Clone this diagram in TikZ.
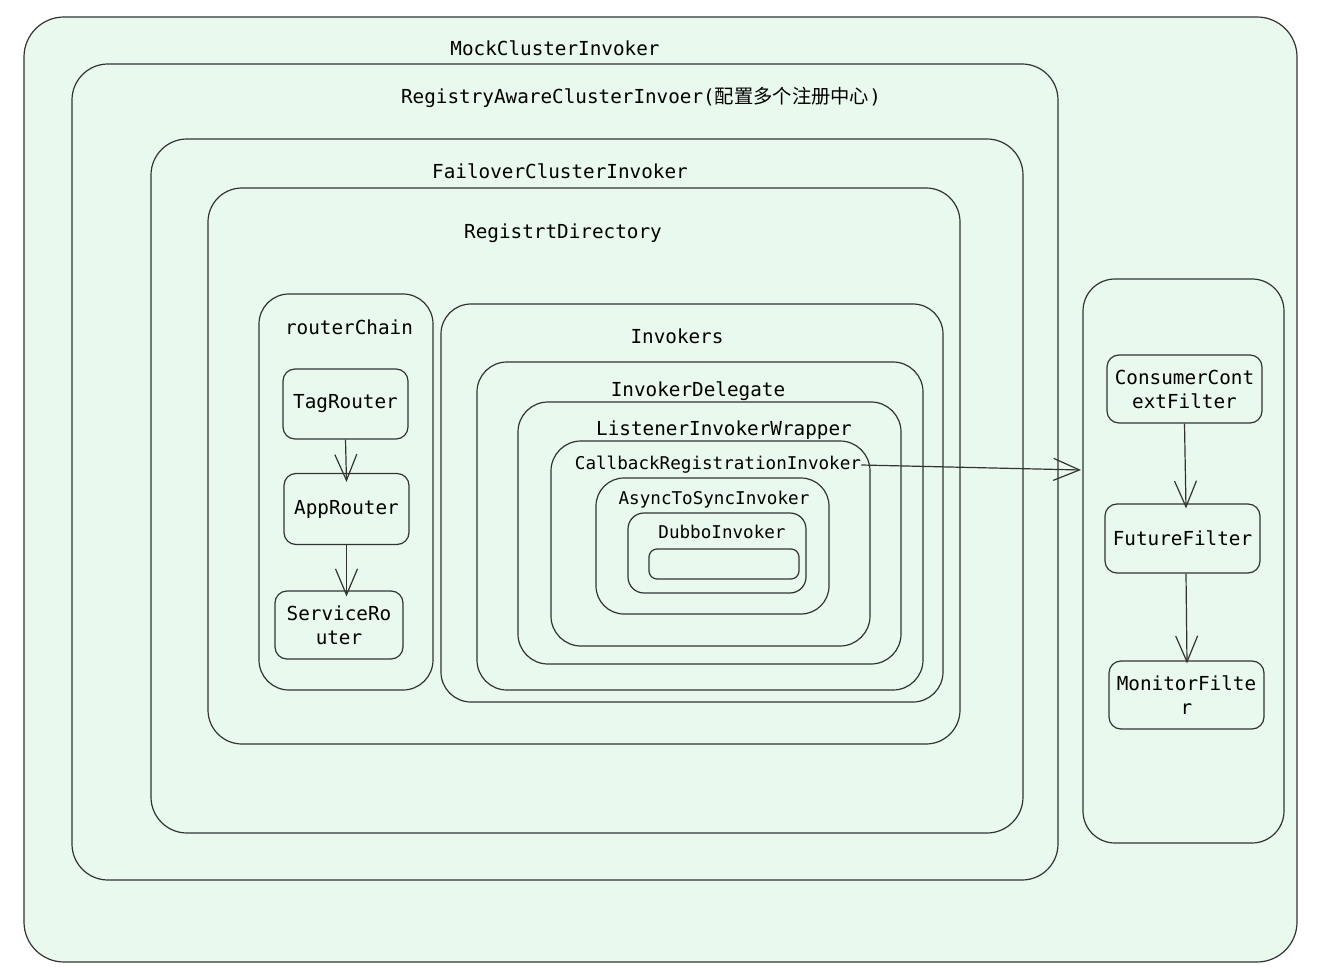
\documentclass[tikz,border=0pt]{standalone}
\usepackage{fontspec}
\setmonofont{DejaVu Sans Mono}
\newfontfamily\cjk{Noto Sans CJK SC}
\usetikzlibrary{arrows.meta,fit}
\definecolor{bgfill}{HTML}{E9F9ED}
\definecolor{edge}{HTML}{333333}
\begin{document}
\begin{tikzpicture}[x=1pt,y=-1pt,
  box/.style={draw=edge, fill=bgfill, line width=1.2pt, inner sep=0pt},
  lbl/.style={font=\fontsize{19.3}{24}\selectfont\ttfamily, inner sep=0pt},
  slbl/.style={font=\fontsize{17.6}{22}\selectfont\ttfamily, inner sep=0pt},
  sbox/.style={box, rounded corners=12pt, align=center, font=\fontsize{19.3}{24}\selectfont\ttfamily},
  arr/.style={draw=edge, line width=1.2pt, -{Straight Barb[length=26pt,width=22pt,line width=1.2pt]}}
]
\useasboundingbox (0,0) rectangle (1318,968);

% nested containers
\node[box, rounded corners=40pt, fit={(24,17) (1297,962)}] (mock) {};
\node[box, rounded corners=36pt, fit={(72,64) (1058,880)}] (reg) {};
\node[box, rounded corners=36pt, fit={(151,139) (1023,833)}] (fail) {};
\node[box, rounded corners=34pt, fit={(208,188) (960,744)}] (dir) {};
\node[box, rounded corners=30pt, fit={(259,294) (433,690)}] (chain) {};
\node[box, rounded corners=30pt, fit={(441,304) (943,702)}] (invs) {};
\node[box, rounded corners=30pt, fit={(477,362) (923,690)}] (deleg) {};
\node[box, rounded corners=30pt, fit={(518,402) (901,664)}] (lisw) {};
\node[box, rounded corners=30pt, fit={(551,441) (870,646)}] (cbri) {};
\node[box, rounded corners=28pt, fit={(596,478) (829,614)}] (async) {};
\node[box, rounded corners=16pt, fit={(628,513) (806,593)}] (dubbo) {};
\node[box, rounded corners=8pt, fit={(649,549) (799,579)}] (inner) {};
\node[box, rounded corners=32pt, fit={(1083,279) (1284,843)}] (filters) {};

% container labels
\node[lbl] (lmock) at (555,48) {MockClusterInvoker};
\node[lbl] (lreg) at (641,97) {RegistryAwareClusterInvoer({\cjk 配置多个注册中心})};
\node[lbl] (lfail) at (560,171) {FailoverClusterInvoker};
\node[lbl] (ldir) at (563,233) {RegistrtDirectory};
\node[lbl] (lchain) at (349,327) {routerChain};
\node[lbl] (linvs) at (677,336) {Invokers};
\node[lbl] (ldeleg) at (698,391) {InvokerDelegate};
\node[lbl] (llisw) at (724,430) {ListenerInvokerWrapper};
\node[slbl] (lcbri) at (718,465) {CallbackRegistrationInvoker};
\node[slbl] (lasync) at (714,500) {AsyncToSyncInvoker};
\node[slbl] (ldubbo) at (722,532) {DubboInvoker};

% routers
\node[sbox, minimum width=125pt, minimum height=70pt] (tag) at (345.5,404) {TagRouter};
\node[sbox, minimum width=125pt, minimum height=71pt] (app) at (346.5,509) {AppRouter};
\node[sbox, minimum width=128pt, minimum height=68pt] (svc) at (339,625) {ServiceRo\\uter};

% filters
\node[sbox, minimum width=155pt, minimum height=68pt] (ccf) at (1184.5,389) {ConsumerCont\\extFilter};
\node[sbox, minimum width=155pt, minimum height=69pt] (fut) at (1182.5,538.5) {FutureFilter};
\node[sbox, minimum width=155pt, minimum height=68pt] (mon) at (1186.5,695) {MonitorFilte\\r};

% connectors
\draw[arr] (tag.south) -- ([yshift=-9pt]app.north);
\draw[arr] (app.south) -- ([yshift=-6pt]svc.north -| app.south);
\coordinate (cbend) at (1081,470);
\draw[arr] (lcbri.east) -- (cbend);
\draw[arr] (ccf.south) -- ([yshift=-5pt]fut.north -| 1186,0);
\draw[arr] (fut.south -| 1186,0) -- ([yshift=-3pt]mon.north -| 1187,0);
\end{tikzpicture}
\end{document}
